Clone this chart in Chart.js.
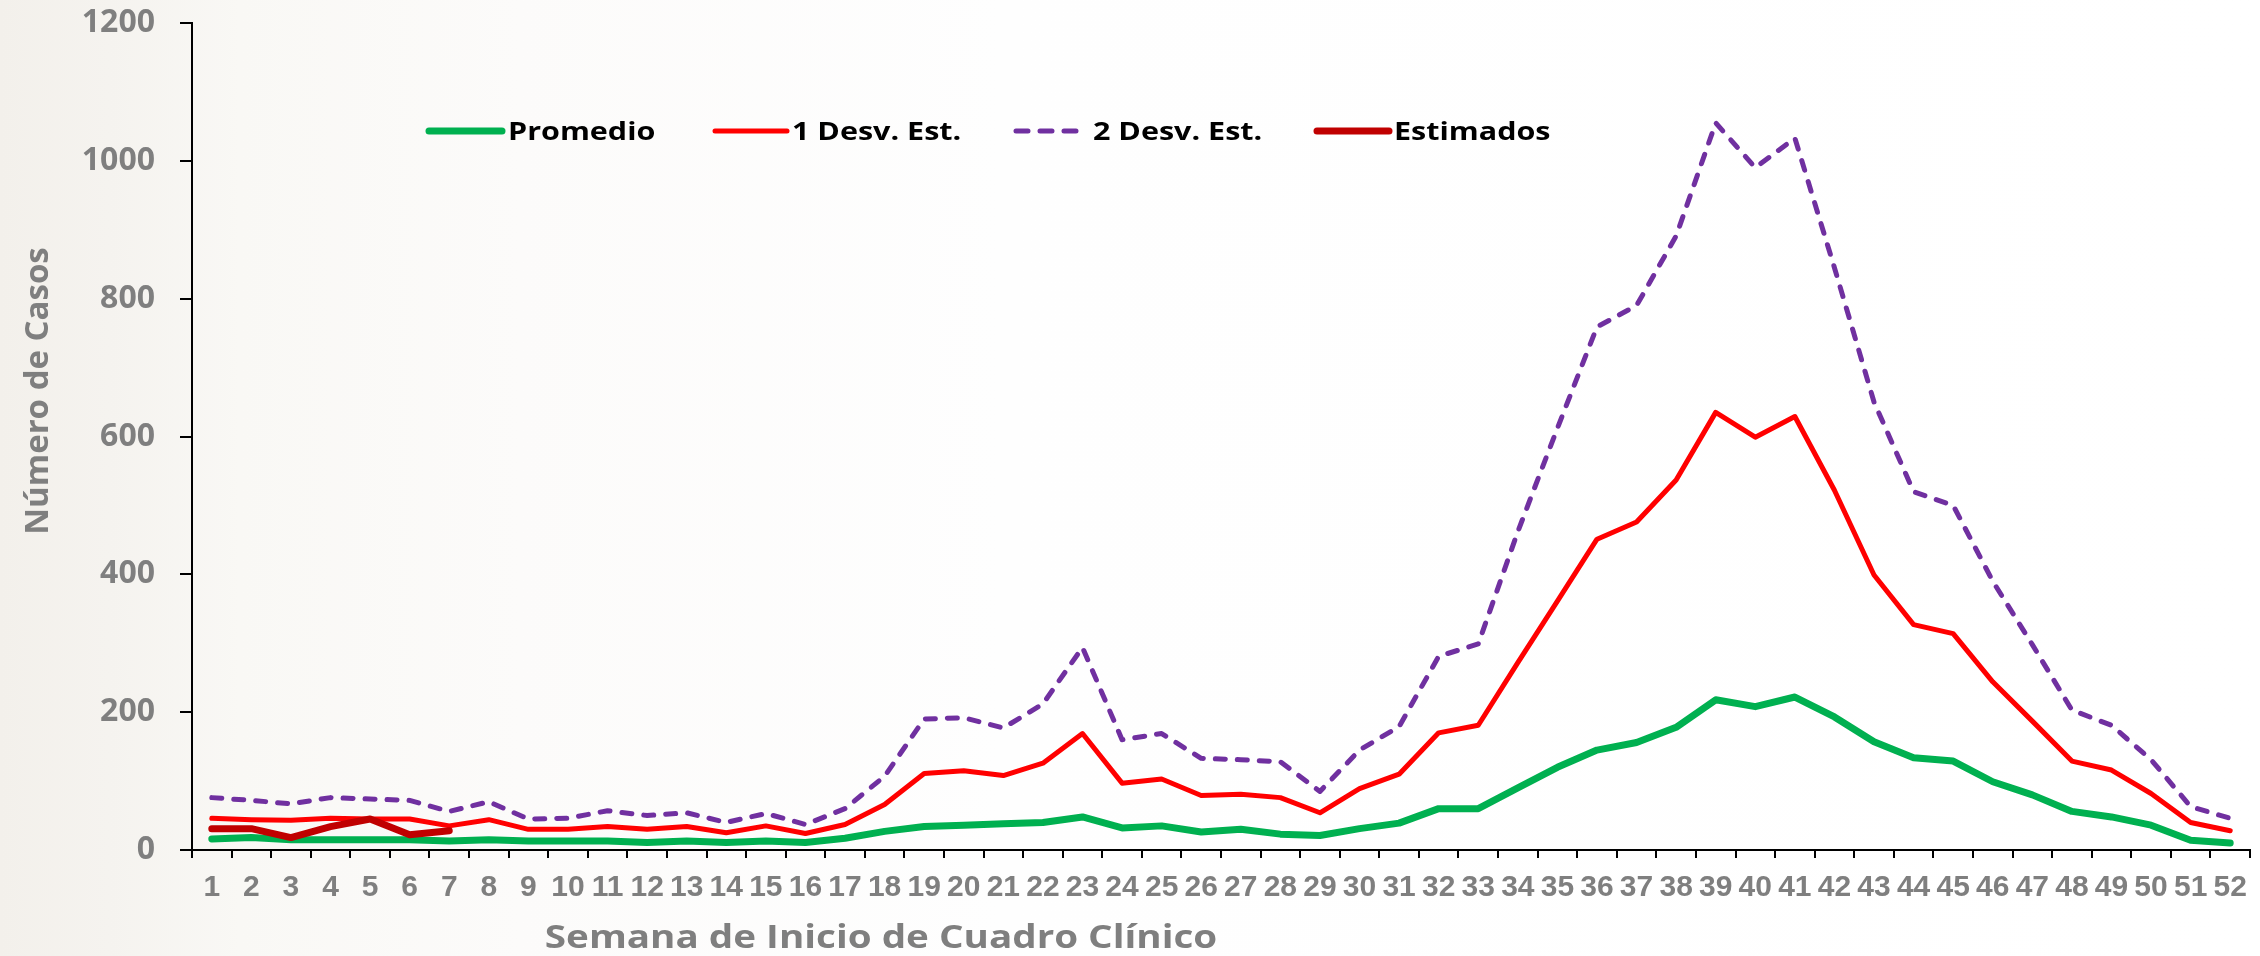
<!DOCTYPE html>
<html>
<head>
<meta charset="utf-8">
<script src="https://cdn.jsdelivr.net/npm/chart.js@4.4.1/dist/chart.umd.min.js"></script>
<style>
html,body{margin:0;padding:0;}
body{width:2260px;height:956px;overflow:hidden;position:relative;
  background:linear-gradient(90deg,#f3f0eb 0px,#f5f3ef 110px,#f9f8f5 240px,#fcfbfa 520px,#fefefe 1000px,#ffffff 2260px);
  font-family:'Open Sans',sans-serif;}
#c{position:absolute;left:0;top:0;}
.t{position:absolute;white-space:nowrap;font-weight:700;color:#7f7f7f;font-size:33px;line-height:40px;}
.lg{position:absolute;white-space:nowrap;font-weight:700;color:#000;font-size:25px;line-height:30px;transform-origin:0 50%;transform:scaleX(1.22);}
svg.ls{position:absolute;overflow:visible;}
</style>
</head>
<body>
<canvas id="c" width="2260" height="956"></canvas>
<div id="legend"></div>
<div id="xt" class="t" style="left:0;width:1762px;top:916px;text-align:center;transform:scaleX(1.17);">Semana de Inicio de Cuadro Clínico</div>
<div id="yt" class="t" style="left:-355px;width:782px;top:371px;text-align:center;transform:rotate(-90deg);">Número de Casos</div>
<script>
// ---- data ----
const weeks = ['1','2','3','4','5','6','7','8','9','10','11','12','13','14','15','16','17','18','19','20','21','22','23','24','25','26','27','28','29','30','31','32','33','34','35','36','37','38','39','40','41','42','43','44','45','46','47','48','49','50','51','52'];
const promedio = [16,18,15,15,15,15,13,15,13,13,13,11,13,11,13,11,17,27,34,36,38,40,48,32,35,26,30,23,21,31,39,60,60,90,120,145,156,178,218,208,222,193,157,134,129,99,80,56,48,36,14,10];
const desv1 = [46,44,43,46,45,45,35,44,30,30,34,30,34,25,35,24,37,66,111,115,108,126,169,97,103,79,81,76,54,89,110,170,181,272,361,451,476,537,635,599,629,522,399,327,314,244,187,129,116,82,40,28];
const desv2 = [76,72,67,76,74,72,56,70,45,46,57,50,54,40,53,37,60,107,190,192,177,212,294,160,169,133,131,128,85,145,179,281,299,462,612,759,790,891,1055,990,1033,845,650,520,500,390,298,203,181,131,63,46];
const estimados = [31,31,18,34,45,22,28,null,null,null,null,null,null,null,null,null,null,null,null,null,null,null,null,null,null,null,null,null,null,null,null,null,null,null,null,null,null,null,null,null,null,null,null,null,null,null,null,null,null,null,null,null];
const seriesNames = ['Promedio','1 Desv. Est.','2 Desv. Est.','Estimados'];
const yTicks = [0,200,400,600,800,1000,1200];

// ---- styles ----
const colors = ['#00b050','#ff0000','#7030a0','#c00000'];
const widths = [7,5,5,7];
const dashes = [[],[],[10,12],[]];

// ---- legend (HTML) ----
const legendPos = [{lx:429,lw:73,tx:508},{lx:715,lw:72,tx:792},{lx:1016,lw:66,tx:1093},{lx:1317,lw:72,tx:1394}];
const lg = document.getElementById('legend');
seriesNames.forEach((n,i)=>{
  const p = legendPos[i];
  const svg = document.createElementNS('http://www.w3.org/2000/svg','svg');
  svg.setAttribute('class','ls');
  svg.setAttribute('width', p.lw+10); svg.setAttribute('height', 20);
  svg.style.left = (p.lx-5)+'px'; svg.style.top = (131-10)+'px';
  const ln = document.createElementNS('http://www.w3.org/2000/svg','line');
  ln.setAttribute('x1',5); ln.setAttribute('x2',5+p.lw); ln.setAttribute('y1',10); ln.setAttribute('y2',10);
  ln.setAttribute('stroke',colors[i]); ln.setAttribute('stroke-width',widths[i]); ln.setAttribute('stroke-linecap','round');
  if (dashes[i].length) ln.setAttribute('stroke-dasharray','12 12');
  svg.appendChild(ln); lg.appendChild(svg);
  const d = document.createElement('div');
  d.className='lg'; d.textContent=n; d.style.left=p.tx+'px'; d.style.top='115px';
  lg.appendChild(d);
});

function draw(){
  const data = [promedio,desv1,desv2,estimados];
  const orders = [1,2,3,0];
  const ds = data.map((d,i)=>({
    label: seriesNames[i], data: d, borderColor: colors[i], backgroundColor: colors[i],
    borderWidth: widths[i], borderDash: dashes[i], borderCapStyle: 'round', borderJoinStyle: 'round',
    pointRadius: 0, pointHoverRadius: 0, tension: 0, fill: false, spanGaps: false, order: orders[i]
  }));
  new Chart(document.getElementById('c'), {
    type: 'line',
    data: { labels: weeks, datasets: ds },
    options: {
      responsive: false, animation: false, devicePixelRatio: 1,
      layout: { padding: { left: 0, right: 10, top: 23, bottom: 0 } },
      plugins: { legend: { display: false }, tooltip: { enabled: false }, title: { display: false } },
      scales: {
        x: {
          type: 'category', offset: true,
          afterFit(s){ s.height = 106; },
          grid: { offset: true, drawOnChartArea: false, drawTicks: true, tickLength: 8, color: '#000', lineWidth: 2 },
          border: { display: true, color: '#000', width: 2 },
          ticks: { autoSkip: false, maxRotation: 0, minRotation: 0, padding: 12, color: '#7f7f7f',
                   font: { family: 'Liberation Sans', weight: 'bold', size: 30 } }
        },
        y: {
          min: 0, max: 1200,
          afterFit(s){ s.width = 192; s.paddingTop = 0; s.paddingBottom = 0; },
          afterBuildTicks(s){ s.ticks = yTicks.map(v=>({value:v})); },
          grid: { drawOnChartArea: false, drawTicks: true, tickLength: 12, color: '#000', lineWidth: 2 },
          border: { display: true, color: '#000', width: 2 },
          ticks: { padding: 25, color: '#7f7f7f', callback: v => String(v),
                   font: { family: 'Open Sans', weight: 'bold', size: 32 } }
        }
      }
    }
  });
}
Promise.all([
  document.fonts.load('bold 30px "Open Sans"'),
  document.fonts.load('bold 30px "Liberation Sans"')
]).then(draw, draw);
</script>
</body>
</html>
